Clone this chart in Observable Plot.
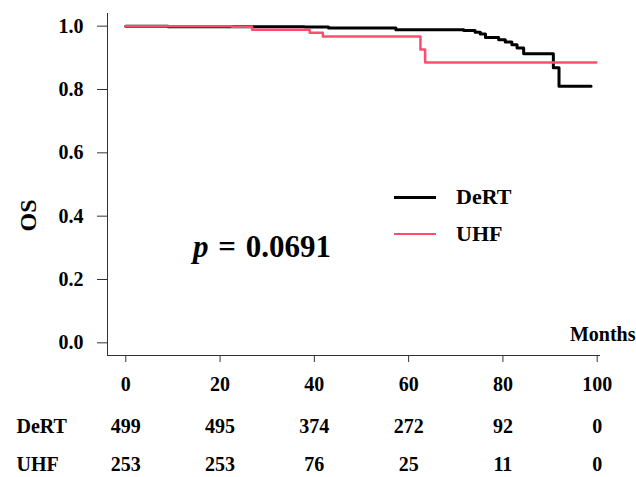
<!DOCTYPE html>
<html><head><meta charset="utf-8">
<script src="https://cdn.jsdelivr.net/npm/d3@7"></script>
<script src="https://cdn.jsdelivr.net/npm/@observablehq/plot@0.6"></script>
<style>
body{margin:0;background:#fff;}
#wrap{position:relative;width:636px;height:477px;font-family:"Liberation Serif","Times New Roman",serif;font-weight:bold;color:#000;}
.leg{position:absolute;left:394px;font-size:22px;display:flex;align-items:center;height:24px;}
.leg span.sw{display:inline-block;width:42px;margin-right:20px;}
#pval{position:absolute;left:193px;top:229px;font-size:31px;line-height:36px;white-space:nowrap;word-spacing:2px;}
</style></head><body><div id="wrap"></div>
<script>
const series = ["DeRT", "UHF"];
const colors = ["#000000", "#ff4d6d"];
const widths = [3, 2.5];
const dertTime = [0, 9, 38, 43, 57.3, 71.7, 74.1, 75.2, 76.3, 79.1, 80.5, 81.9, 83.0, 84.4, 90.7, 91.9, 98.7];
const dertSurv = [1.0, 0.998, 0.997, 0.994, 0.989, 0.986, 0.981, 0.975, 0.964, 0.957, 0.950, 0.941, 0.931, 0.913, 0.869, 0.810, 0.810];
const uhfTime = [0, 22.5, 26.8, 39.0, 41.8, 62.5, 63.5, 99.8];
const uhfSurv = [1.0, 0.998, 0.989, 0.979, 0.967, 0.926, 0.885, 0.885];
const timeTicks = [0, 20, 40, 60, 80, 100];
const dertAtRisk = [499, 495, 374, 272, 92, 0];
const uhfAtRisk = [253, 253, 76, 25, 11, 0];
const yTicks = [0, 0.2, 0.4, 0.6, 0.8, 1.0];
const yLabel = "OS";
const xLabel = "Months";
const pValue = "0.0691";

const xDomain = [-3.88, 100.7];
const yDomain = [-0.04, 1.04];
const dert = dertTime.map((t, i) => ({t, s: dertSurv[i]}));
const uhf = uhfTime.map((t, i) => ({t, s: uhfSurv[i]}));
const font = "Liberation Serif, Times New Roman, serif";

const chart = Plot.plot({
  width: 636, height: 477,
  marginLeft: 107, marginRight: 36, marginTop: 13, marginBottom: 122,
  x: {domain: xDomain},
  y: {domain: yDomain},
  style: {fontFamily: font, fontSize: "20px", fontWeight: "bold", color: "#000", overflow: "visible"},
  marks: [
    Plot.ruleX([xDomain[0]], {stroke: "#333", strokeWidth: 1}),
    Plot.ruleY([yDomain[0]], {stroke: "#333", strokeWidth: 1}),
    Plot.axisY({ticks: yTicks, tickFormat: d3.format(".1f"), tickSize: 10, tickPadding: 14, stroke: "#333", fontSize: 20, fontWeight: "bold", label: null}),
    Plot.axisX({ticks: timeTicks, tickFormat: d => d, tickSize: 7, tickPadding: 14, stroke: "#333", fontSize: 20, fontWeight: "bold", label: null}),
    Plot.line(dert, {x: "t", y: "s", curve: "step-after", stroke: colors[0], strokeWidth: widths[0]}),
    Plot.line(uhf, {x: "t", y: "s", curve: "step-after", stroke: colors[1], strokeWidth: widths[1]}),
    Plot.text([yLabel], {text: d => d, frameAnchor: "left", rotate: -90, dx: -79, dy: 47, fontSize: 24, fontWeight: "bold"}),
    Plot.text([xLabel], {text: d => d, frameAnchor: "bottom-right", textAnchor: "end", dx: 35, dy: -15, fontSize: 20, fontWeight: "bold"}),
    Plot.text(timeTicks, {x: d => d, text: (d, i) => String(dertAtRisk[i]), frameAnchor: "bottom", lineAnchor: "middle", dy: 71, fontSize: 20, fontWeight: "bold"}),
    Plot.text(timeTicks, {x: d => d, text: (d, i) => String(uhfAtRisk[i]), frameAnchor: "bottom", lineAnchor: "middle", dy: 109, fontSize: 20, fontWeight: "bold"}),
    Plot.text([series[0]], {text: d => d, frameAnchor: "bottom-left", textAnchor: "start", lineAnchor: "middle", dx: -91, dy: 71, fontSize: 20, fontWeight: "bold"}),
    Plot.text([series[1]], {text: d => d, frameAnchor: "bottom-left", textAnchor: "start", lineAnchor: "middle", dx: -91, dy: 109, fontSize: 20, fontWeight: "bold"})
  ]
});
const wrap = document.getElementById("wrap");
wrap.appendChild(chart);

// legend
const legTops = [185, 222];
series.forEach((name, i) => {
  const d = document.createElement("div");
  d.className = "leg";
  d.style.top = legTops[i] + "px";
  const sw = document.createElement("span");
  sw.className = "sw";
  sw.style.borderTop = widths[i] + "px solid " + colors[i];
  d.appendChild(sw);
  const t = document.createElement("span");
  t.textContent = name;
  d.appendChild(t);
  wrap.appendChild(d);
});
// p-value
const p = document.createElement("div");
p.id = "pval";
const pi = document.createElement("i");
pi.textContent = "p";
p.appendChild(pi);
p.appendChild(document.createTextNode(" = " + pValue));
wrap.appendChild(p);
</script></body></html>
